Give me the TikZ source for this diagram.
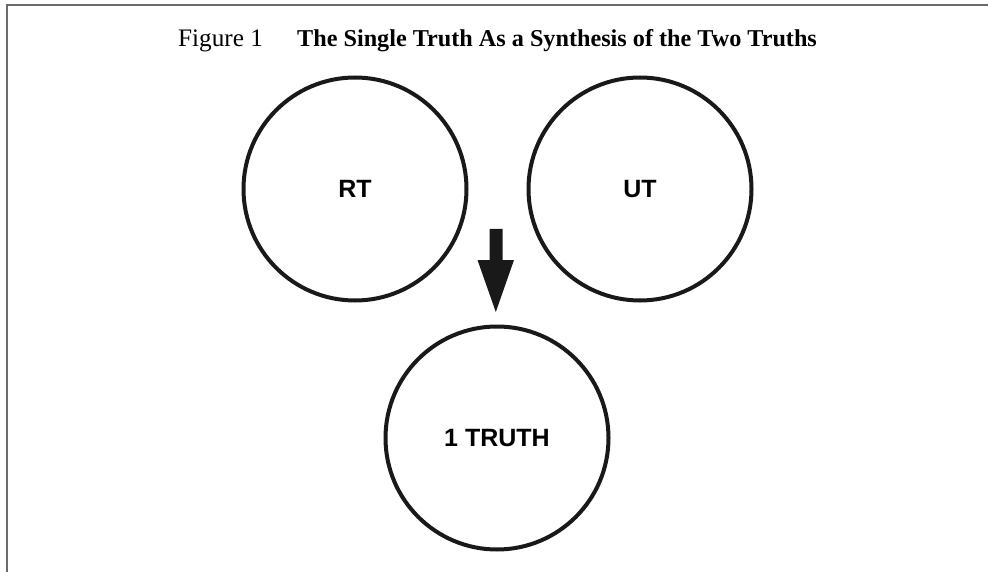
\documentclass[tikz,border=0pt]{standalone}
\usepackage{fontspec}
\setmainfont{Liberation Serif}
\newfontfamily\labelfont{Liberation Sans}
\begin{document}
\begin{tikzpicture}[x=1pt,y=-1pt,
  truth/.style={circle,draw=black!90,line width=4pt,minimum size=223pt,inner sep=0pt,
    font=\labelfont\bfseries\fontsize{25}{28}\selectfont},
  frame/.style={draw=black!58,line width=1.6pt},
  title/.style={anchor=base west,inner sep=0pt,font=\fontsize{25.2}{32}\selectfont}]
\useasboundingbox (0,0) rectangle (988,572);
\fill[white] (0,0) rectangle (988,572);
\draw[frame] (7,572) -- (7,5) -- (988,5);
\node[title] (fig) at (178,47) {Figure 1};
\node[title,font=\bfseries\fontsize{24.2}{32}\selectfont] (ttl) at (297,47) {The Single Truth As a Synthesis of the Two Truths};
\node[truth] (rt) at (355,189) {RT};
\node[truth] (ut) at (640,189) {UT};
\node[truth] (one) at (497,438) {1 TRUTH};
\fill[black!90] (489.5,229) -- (502.5,229) -- (502.5,260) -- (514,260) -- (495.8,312)
  -- (477.5,260) -- (489.5,260) -- cycle;
\end{tikzpicture}
\end{document}
